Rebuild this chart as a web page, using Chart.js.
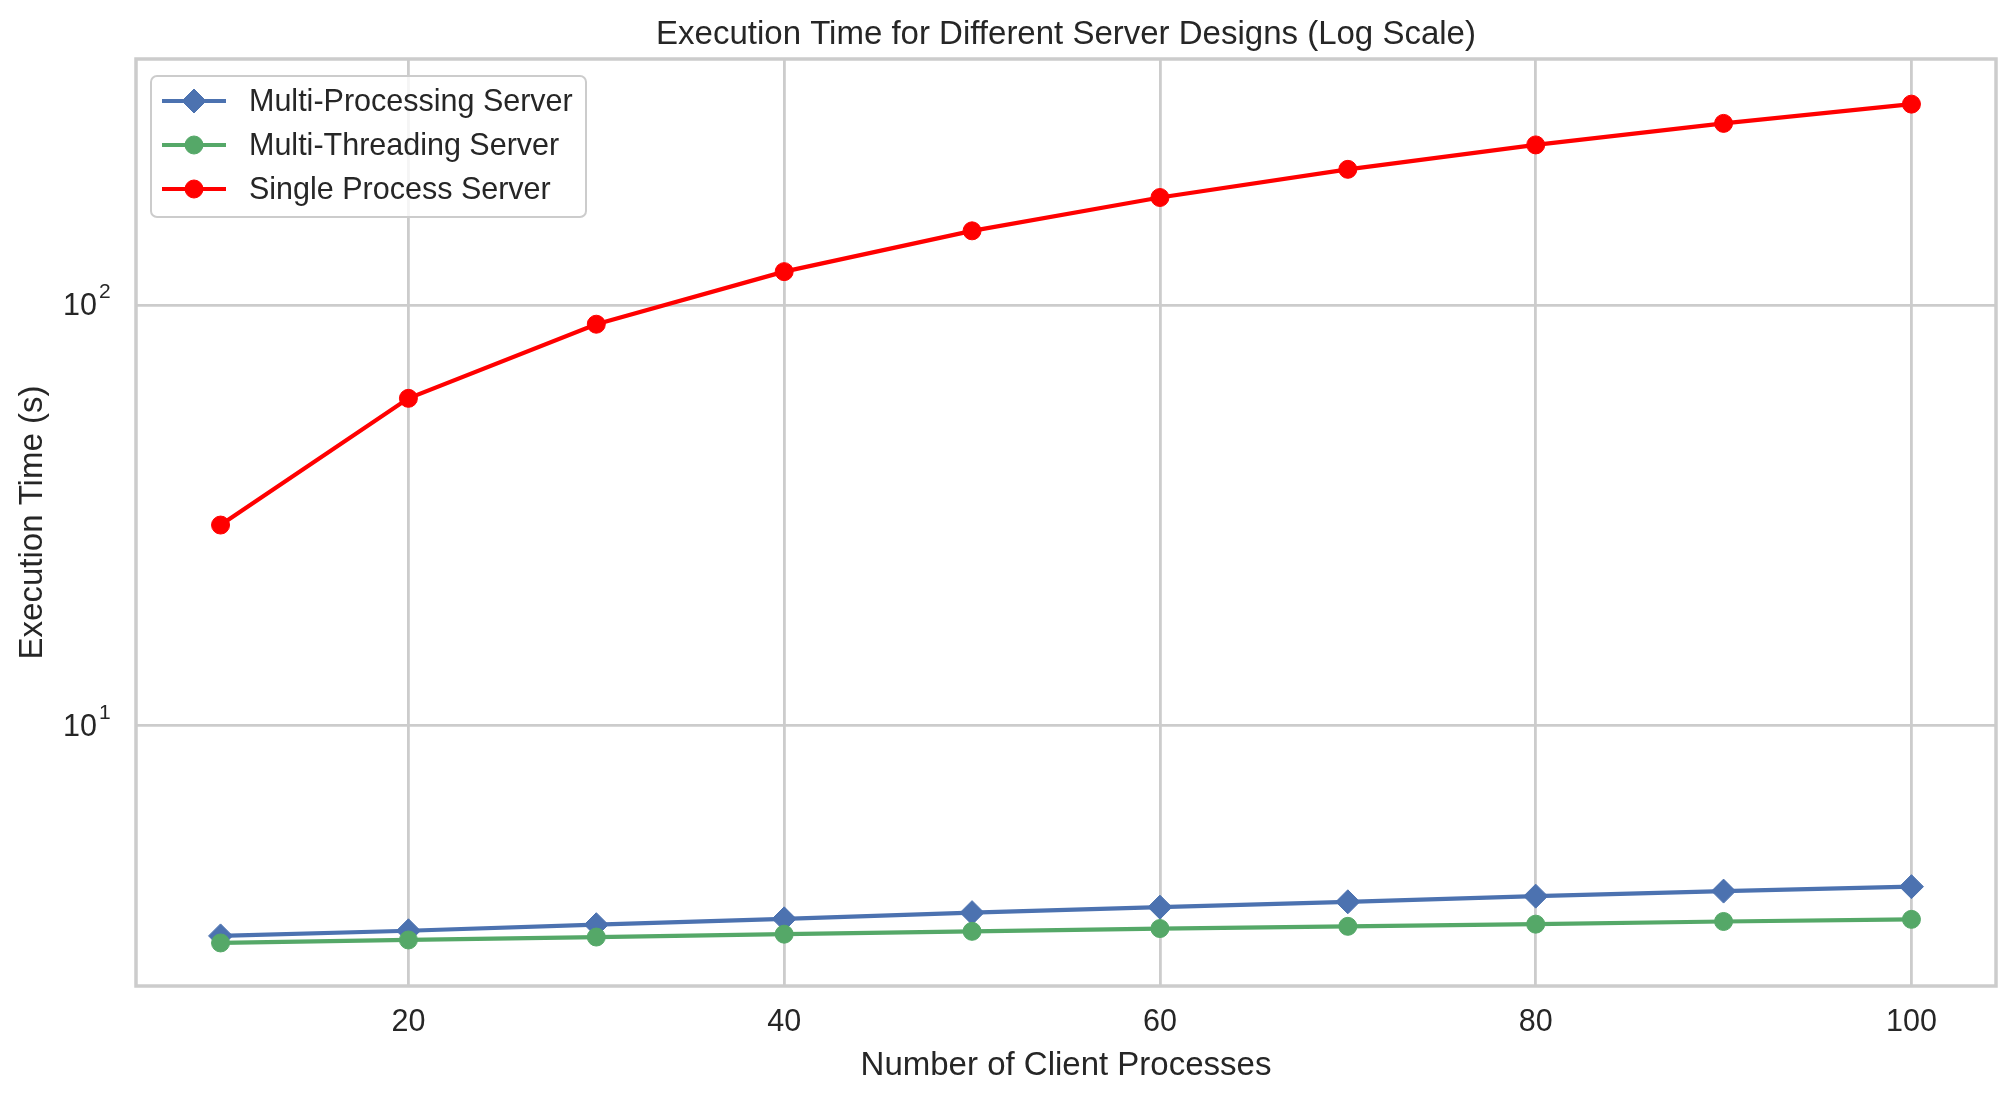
<!DOCTYPE html>
<html>
<head>
<meta charset="utf-8">
<script src="https://cdn.jsdelivr.net/npm/chart.js@4.4.1/dist/chart.umd.min.js"></script>
<style>
  html, body { margin: 0; padding: 0; background: #fff; }
  canvas { display: block; }
</style>
</head>
<body>
<canvas id="serverChart" width="2015" height="1102"></canvas>
<script>
// values
const clients = [10, 20, 30, 40, 50, 60, 70, 80, 90, 100];
const multiProcessing = [3.17, 3.26, 3.37, 3.48, 3.6, 3.71, 3.82, 3.94, 4.05, 4.15];
const multiThreading = [3.05, 3.1, 3.15, 3.2, 3.25, 3.3, 3.34, 3.38, 3.43, 3.47];
const singleProcess = [30, 60, 90, 120, 150, 180, 210, 240, 270, 300];
const xTicks = [20, 40, 60, 80, 100];
const yTicks = [10, 100];
const yTickExp = { 10: '1', 100: '2' };

const FONT = '"Liberation Sans", Arial, sans-serif';
const TEXT = '#262626';
const GRID = '#cccccc';

const pts = (ys) => clients.map((x, i) => ({ x, y: ys[i] }));

// spines round the plot area
const frame = {
  id: 'frame',
  afterDatasetsDraw(chart) {
    const { ctx, chartArea: a } = chart;
    ctx.save();
    ctx.strokeStyle = GRID;
    ctx.lineWidth = 3.5;
    ctx.strokeRect(a.left, a.top, a.right - a.left, a.bottom - a.top);
    ctx.restore();
  }
};

// log tick labels as 10 with a raised exponent
const logLabels = {
  id: 'logLabels',
  afterDraw(chart) {
    const { ctx } = chart;
    const y = chart.scales.y;
    ctx.save();
    ctx.fillStyle = TEXT;
    yTicks.forEach(v => {
      const py = y.getPixelForValue(v);
      ctx.font = '30.5px ' + FONT;
      ctx.textAlign = 'right';
      ctx.textBaseline = 'middle';
      ctx.fillText('10', y.right - 39, py + 2);
      ctx.font = '21px ' + FONT;
      ctx.textAlign = 'left';
      ctx.textBaseline = 'alphabetic';
      ctx.fillText(yTickExp[v], y.right - 37, py - 7);
    });
    ctx.restore();
  }
};

// matplotlib-style legend: line + marker handle inside the axes
const legendBox = {
  id: 'legendBox',
  afterDraw(chart) {
    const { ctx, chartArea: a } = chart;
    const x0 = a.left + 15, y0 = a.top + 17, w = 435, h = 141;
    ctx.save();
    ctx.beginPath();
    ctx.roundRect(x0, y0, w, h, 6);
    ctx.fillStyle = 'rgba(255,255,255,0.8)';
    ctx.fill();
    ctx.strokeStyle = GRID;
    ctx.lineWidth = 2;
    ctx.stroke();

    chart.data.datasets.forEach((ds, i) => {
      const cy = y0 + 25 + i * 44;
      ctx.strokeStyle = ds.borderColor;
      ctx.lineWidth = ds.borderWidth;
      ctx.beginPath();
      ctx.moveTo(x0 + 11, cy);
      ctx.lineTo(x0 + 75, cy);
      ctx.stroke();
      ctx.fillStyle = ds.pointBackgroundColor;
      ctx.strokeStyle = ds.pointBorderColor;
      ctx.lineWidth = 1;
      Chart.helpers.drawPoint(ctx, {
        pointStyle: ds.pointStyle, radius: ds.pointRadius, rotation: 0, borderWidth: 1
      }, x0 + 43, cy);
      ctx.fillStyle = TEXT;
      ctx.font = '30.5px ' + FONT;
      ctx.textBaseline = 'middle';
      ctx.textAlign = 'left';
      ctx.fillText(ds.label, x0 + 98, cy + 2);
    });
    ctx.restore();
  }
};

new Chart(document.getElementById('serverChart'), {
  type: 'line',
  data: {
    datasets: [
      {
        label: 'Multi-Processing Server',
        data: pts(multiProcessing),
        borderColor: '#4c72b0',
        pointBackgroundColor: '#4c72b0',
        pointBorderColor: '#4c72b0',
        pointStyle: 'rectRot',
        pointRadius: 12,
        order: 3,
      },
      {
        label: 'Multi-Threading Server',
        data: pts(multiThreading),
        borderColor: '#55a868',
        pointBackgroundColor: '#55a868',
        pointBorderColor: '#55a868',
        pointStyle: 'circle',
        pointRadius: 9,
        order: 2,
      },
      {
        label: 'Single Process Server',
        data: pts(singleProcess),
        borderColor: '#ff0000',
        pointBackgroundColor: '#ff0000',
        pointBorderColor: '#ff0000',
        pointStyle: 'circle',
        pointRadius: 9,
        order: 1,
      },
    ].map(d => Object.assign({
      borderWidth: 4.2,
      pointBorderWidth: 1,
      pointHoverRadius: d.pointRadius,
      tension: 0,
      fill: false,
    }, d)),
  },
  options: {
    responsive: false,
    animation: false,
    devicePixelRatio: 1,
    events: [],
    layout: { padding: { left: 0, right: 19, top: 0, bottom: 0 } },
    plugins: {
      legend: { display: false },
      tooltip: { enabled: false },
      title: {
        display: true,
        fullSize: false,
        text: 'Execution Time for Different Server Designs (Log Scale)',
        color: TEXT,
        font: { family: FONT, size: 33, weight: 'normal', lineHeight: 1.2 },
        padding: { top: 15.3, bottom: 4.1 },
      },
    },
    scales: {
      x: {
        type: 'linear',
        min: 5.5,
        max: 104.5,
        afterBuildTicks: (s) => { s.ticks = xTicks.map(v => ({ value: v })); },
        afterFit: (s) => { s.height = 116; },
        grid: { color: GRID, lineWidth: 2.8, drawTicks: false },
        border: { display: false },
        ticks: {
          color: TEXT,
          padding: 18.5,
          font: { family: FONT, size: 30.5 },
          maxRotation: 0,
        },
        title: {
          display: true,
          text: 'Number of Client Processes',
          color: TEXT,
          font: { family: FONT, size: 33, lineHeight: 1.2 },
          padding: { top: 0, bottom: 16.5 },
        },
      },
      y: {
        type: 'logarithmic',
        min: 2.41,
        max: 384,
        afterBuildTicks: (s) => { s.ticks = yTicks.map(v => ({ value: v })); },
        afterFit: (s) => { s.width = 136; },
        grid: { color: GRID, lineWidth: 2.8, drawTicks: false },
        border: { display: false },
        ticks: {
          display: true,
          color: 'rgba(0,0,0,0)',
          padding: 27,
          font: { family: FONT, size: 30.5 },
          callback: () => '',
        },
        title: {
          display: true,
          text: 'Execution Time (s)',
          color: TEXT,
          font: { family: FONT, size: 33, lineHeight: 1.2 },
          padding: { top: 13, bottom: 0 },
        },
      },
    },
  },
  plugins: [frame, legendBox, logLabels],
});
</script>
</body>
</html>
